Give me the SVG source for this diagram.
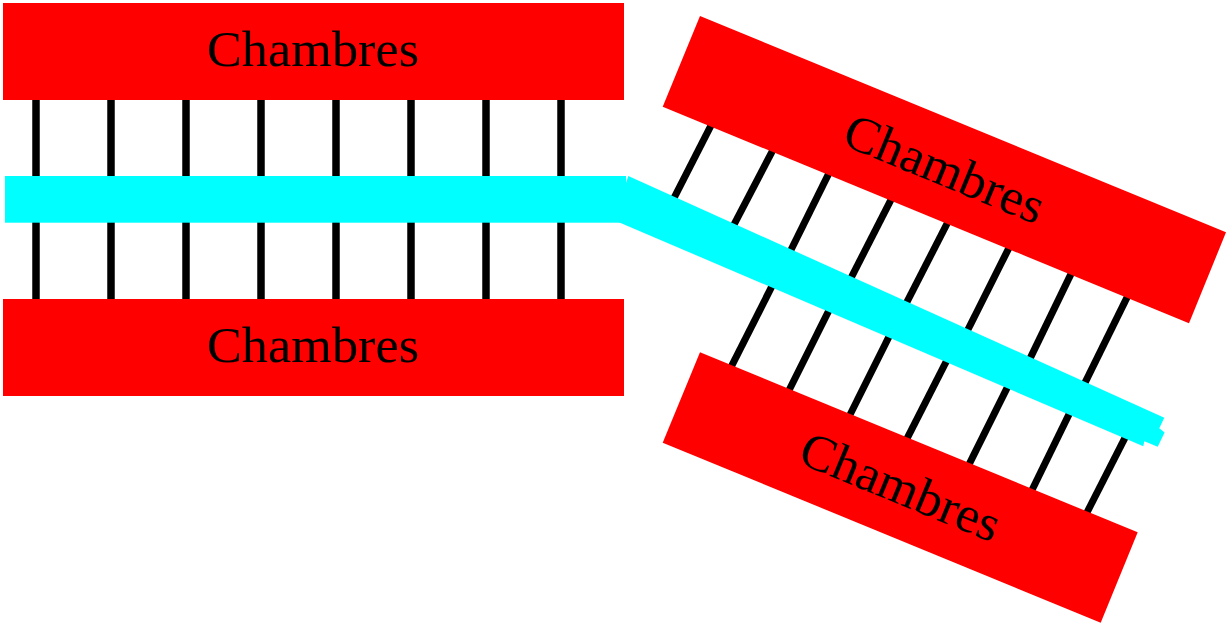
<svg xmlns="http://www.w3.org/2000/svg" width="1227" height="623" viewBox="0 0 1227 623">
<style>
.ch{fill:#ff0000;stroke:none}
.lbl{font-family:"Liberation Serif","DejaVu Serif",serif;font-size:51px;fill:#000;text-anchor:middle}
.rung{stroke:#000;stroke-width:7.5;fill:none}
.rs{stroke:#000;stroke-width:7;fill:none}
.band{fill:#00ffff;stroke:none}
</style>
<rect width="1227" height="623" fill="#fff"/>
<g id="connectors">
<g id="rungs-left">
<line class="rung" x1="36" y1="96" x2="36" y2="303"/>
<line class="rung" x1="111" y1="96" x2="111" y2="303"/>
<line class="rung" x1="186" y1="96" x2="186" y2="303"/>
<line class="rung" x1="261" y1="96" x2="261" y2="303"/>
<line class="rung" x1="336" y1="96" x2="336" y2="303"/>
<line class="rung" x1="411" y1="96" x2="411" y2="303"/>
<line class="rung" x1="486" y1="96" x2="486" y2="303"/>
<line class="rung" x1="561" y1="96" x2="561" y2="303"/>
</g>
<g id="rungs-right-upper">
<line class="rs" x1="713.1" y1="121.3" x2="671.9" y2="202.1"/>
<line class="rs" x1="773.1" y1="149.6" x2="731.9" y2="228.7"/>
<line class="rs" x1="830.2" y1="170.6" x2="789.1" y2="253.7"/>
<line class="rs" x1="892.7" y1="196.3" x2="849.8" y2="280.4"/>
<line class="rs" x1="949.1" y1="219.6" x2="905.2" y2="305.4"/>
<line class="rs" x1="1010.6" y1="244.6" x2="965.9" y2="333.7"/>
<line class="rs" x1="1073.1" y1="269.6" x2="1028.3" y2="362.1"/>
<line class="rs" x1="1128.4" y1="294.6" x2="1083.7" y2="385.4"/>
</g>
<g id="rungs-right-lower">
<line class="rs" x1="773.1" y1="283.9" x2="729.4" y2="370.4"/>
<line class="rs" x1="830.2" y1="307.9" x2="787.3" y2="393.7"/>
<line class="rs" x1="890.9" y1="332.9" x2="848" y2="418.7"/>
<line class="rs" x1="948.1" y1="357.9" x2="905.2" y2="442.1"/>
<line class="rs" x1="1008.7" y1="384.6" x2="967.7" y2="467.1"/>
<line class="rs" x1="1071.3" y1="409.6" x2="1030.2" y2="493.7"/>
<line class="rs" x1="1126.6" y1="434.6" x2="1085.5" y2="515.4"/>
</g>
<g id="channel">
<rect class="band" x="5" y="176" width="621" height="46.7"/>
<polygon class="band" points="628.3,176 1164.3,417.7 1159.3,428.3 1164.6,432.5 1157.7,446.7 1144.3,441.2 1143.3,446.3 620,222.7 609.4,218 626,183"/>
</g>
</g>
<g id="node-top-left">
<rect class="ch" x="3" y="3" width="621" height="97"/>
<text class="lbl" x="313" y="66" textLength="212" lengthAdjust="spacingAndGlyphs">Chambres</text>
</g>
<g id="node-bottom-left">
<rect class="ch" x="3" y="299" width="621" height="97"/>
<text class="lbl" x="313" y="362" textLength="212" lengthAdjust="spacingAndGlyphs">Chambres</text>
</g>
<g id="node-top-right">
<polygon class="ch" points="700,16 1226,232.3 1189,323.3 662.7,106.7"/>
<text class="lbl" transform="translate(944.4,169.6) rotate(22.36)" x="0" y="16" textLength="212" lengthAdjust="spacingAndGlyphs">Chambres</text>
</g>
<g id="node-bottom-right">
<polygon class="ch" points="700,352.3 1137.7,532.3 1100.7,622.7 662.7,442.7"/>
<text class="lbl" transform="translate(900.3,487.5) rotate(22.36)" x="0" y="16" textLength="212" lengthAdjust="spacingAndGlyphs">Chambres</text>
</g>
</svg>
